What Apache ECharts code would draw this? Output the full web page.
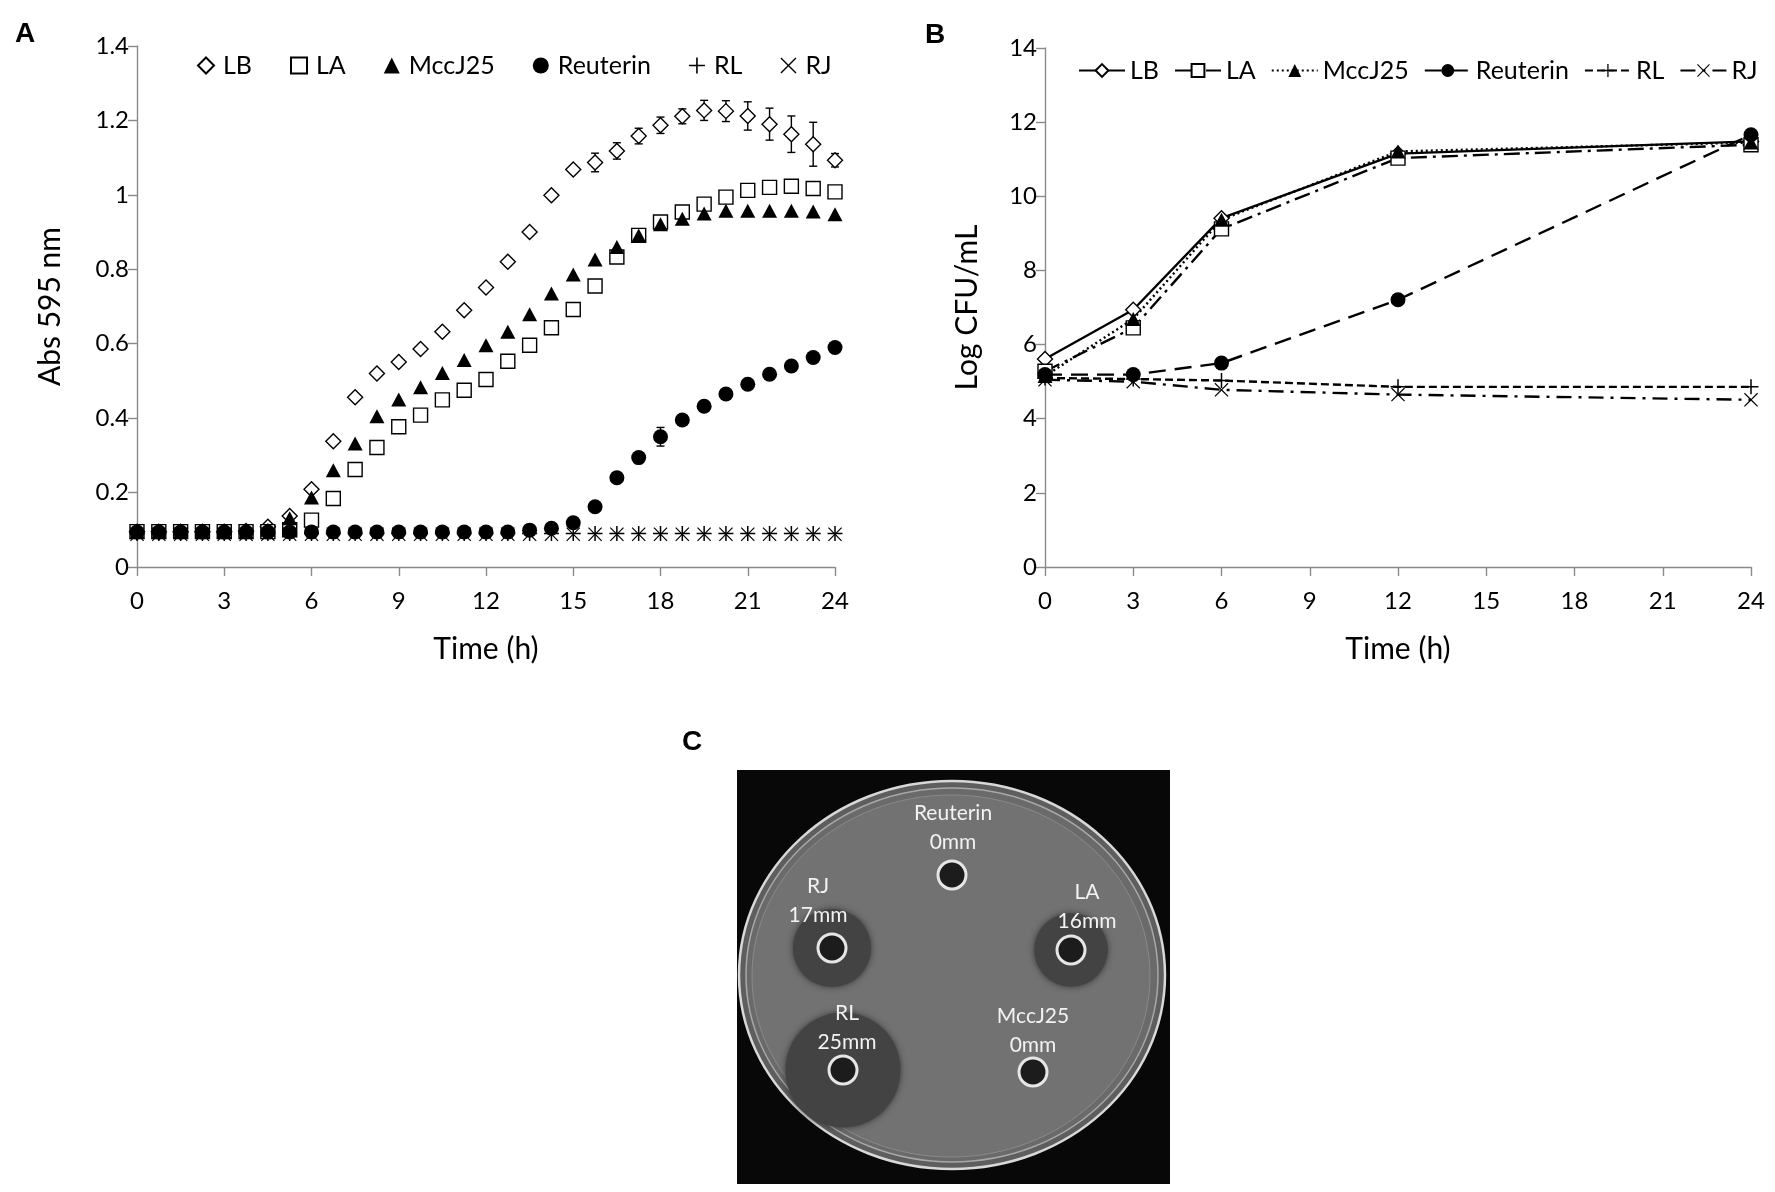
<!DOCTYPE html>
<html>
<head>
<meta charset="utf-8">
<title>Growth curves</title>
<script src="https://cdn.jsdelivr.net/npm/echarts@6/dist/echarts.min.js"></script>
<style>
    html, body { margin: 0; padding: 0; background: #fff; }
    #chart { width: 1775px; height: 1192px; }
</style>
</head>
<body>
<div id="chart"></div>
<script>
// ---- panel A: absorbance, one reading every 0.75 h ----
let timesA = [0, 0.75, 1.5, 2.25, 3, 3.75, 4.5, 5.25, 6, 6.75, 7.5, 8.25, 9, 9.75, 10.5, 11.25, 12,
    12.75, 13.5, 14.25, 15, 15.75, 16.5, 17.25, 18, 18.75, 19.5, 20.25, 21, 21.75, 22.5, 23.25, 24];
let lbA = [0.095, 0.095, 0.095, 0.095, 0.095, 0.097, 0.108, 0.137, 0.209, 0.338, 0.456, 0.52, 0.551, 0.586, 0.632, 0.69, 0.751,
    0.82, 0.9, 0.999, 1.068, 1.087, 1.118, 1.158, 1.187, 1.211, 1.227, 1.225, 1.212, 1.19, 1.163, 1.136, 1.093];
let lbErrA = [0, 0, 0, 0, 0, 0, 0, 0, 0, 0, 0, 0, 0, 0, 0, 0, 0,
    0, 0, 0, 0, 0.025, 0.022, 0.021, 0.022, 0.02, 0.027, 0.028, 0.038, 0.043, 0.049, 0.059, 0.018];
let laA = [0.095, 0.095, 0.095, 0.095, 0.095, 0.095, 0.095, 0.1, 0.126, 0.184, 0.262, 0.321, 0.377, 0.408, 0.449, 0.475, 0.504,
    0.553, 0.596, 0.643, 0.692, 0.755, 0.833, 0.891, 0.927, 0.954, 0.975, 0.994, 1.012, 1.02, 1.023, 1.017, 1.008];
let mccA = [0.095, 0.095, 0.095, 0.095, 0.095, 0.095, 0.1, 0.131, 0.187, 0.26, 0.332, 0.405, 0.45, 0.483, 0.521, 0.556, 0.596,
    0.632, 0.679, 0.735, 0.786, 0.826, 0.86, 0.891, 0.921, 0.936, 0.95, 0.957, 0.957, 0.957, 0.957, 0.955, 0.948];
let reuA = [0.094, 0.094, 0.094, 0.094, 0.094, 0.094, 0.094, 0.094, 0.094, 0.094, 0.094, 0.094, 0.094, 0.094, 0.094, 0.094, 0.094,
    0.094, 0.099, 0.104, 0.119, 0.162, 0.24, 0.294, 0.35, 0.395, 0.432, 0.465, 0.491, 0.518, 0.54, 0.563, 0.59];
let reuErrA = [0, 0, 0, 0, 0, 0, 0, 0, 0, 0, 0, 0, 0, 0, 0, 0, 0,
    0, 0, 0, 0, 0, 0, 0, 0.025, 0, 0, 0, 0, 0, 0, 0, 0];
let rlA = [0.09, 0.09, 0.09, 0.09, 0.09, 0.09, 0.09, 0.09, 0.09, 0.09, 0.09, 0.09, 0.09, 0.09, 0.09, 0.09, 0.09,
    0.09, 0.09, 0.09, 0.09, 0.09, 0.09, 0.09, 0.09, 0.09, 0.09, 0.09, 0.09, 0.09, 0.09, 0.09, 0.09];
let rjA = [0.088, 0.088, 0.088, 0.088, 0.088, 0.088, 0.088, 0.088, 0.088, 0.088, 0.088, 0.088, 0.088, 0.088, 0.088, 0.088, 0.088,
    0.088, 0.088, 0.088, 0.088, 0.088, 0.088, 0.088, 0.088, 0.088, 0.088, 0.088, 0.088, 0.088, 0.088, 0.088, 0.088];

// ---- panel B: plate counts ----
let timesB = [0, 3, 6, 12, 24];
let lbB = [5.61, 6.94, 9.41, 11.15, 11.48];
let laB = [5.28, 6.45, 9.12, 11.03, 11.39];
let mccB = [5.15, 6.69, 9.37, 11.21, 11.45];
let reuB = [5.19, 5.19, 5.5, 7.21, 11.66];
let rlB = [5.1, 5.07, 5.03, 4.86, 4.86];
let rjB = [5.05, 5.0, 4.78, 4.65, 4.51];

let seriesNames = ['LB', 'LA', 'MccJ25', 'Reuterin', 'RL', 'RJ'];

// ---- panel C: inhibition zones on the plate ----
let plateWells = ['Reuterin', 'RJ', 'LA', 'RL', 'MccJ25'];
let zoneMm = [0, 17, 16, 25, 0];

const FONT = 'Lato';
const PLUS = 'path://M9,0h2v20h-2z M0,9h20v2h-20z';
const CROSS = 'path://M1.2,0L10,8.8L18.8,0L20,1.2L11.2,10L20,18.8L18.8,20L10,11.2L1.2,20L0,18.8L8.8,10L0,1.2Z';
const B_PREFIX = 'B:'; // panel B series get their own names so each legend finds its own series

function pairs(xs, ys) {
    return xs.map(function (x, i) { return [x, ys[i]]; });
}
function errPairs(xs, ys, es) {
    let out = [];
    xs.forEach(function (x, i) { if (es[i] > 0) out.push([x, ys[i], es[i]]); });
    return out;
}

// style per series (symbol, colours)
let looks = [
    {symbol: 'diamond', size: 15, fill: '#fff'},
    {symbol: 'rect', size: 14, fill: '#fff'},
    {symbol: 'triangle', size: [15, 14], fill: '#000'},
    {symbol: 'circle', size: 15, fill: '#000'},
    {symbol: PLUS, size: 15, fill: '#000'},
    {symbol: CROSS, size: 14, fill: '#000'}
];
let lineTypes = ['solid', [16, 6, 3, 6], [2, 3], [17, 9], [8, 4], [15, 7, 3, 7]];

function axisCommon(isX) {
    return {
        axisLine: {show: true, onZero: false, lineStyle: {color: '#8a8a8a', width: 1.4}},
        axisTick: {show: true, length: 9, lineStyle: {color: '#8a8a8a', width: 1.4}},
        splitLine: {show: false},
        axisLabel: {color: '#000', fontFamily: FONT, fontSize: 24, margin: isX ? 22 : 8},
        nameTextStyle: {color: '#000', fontFamily: FONT, fontSize: 30},
        nameLocation: 'middle'
    };
}

let errRender = function (params, api) {
    let x = api.value(0), y = api.value(1), e = api.value(2);
    let top = api.coord([x, y + e]);
    let bot = api.coord([x, y - e]);
    let hw = 4;
    let st = {stroke: '#000', lineWidth: 1.4};
    return {
        type: 'group',
        children: [
            {type: 'line', shape: {x1: top[0], y1: top[1], x2: bot[0], y2: bot[1]}, style: st},
            {type: 'line', shape: {x1: top[0] - hw, y1: top[1], x2: top[0] + hw, y2: top[1]}, style: st},
            {type: 'line', shape: {x1: bot[0] - hw, y1: bot[1], x2: bot[0] + hw, y2: bot[1]}, style: st}
        ]
    };
};

let dataA = [lbA, laA, mccA, reuA, rlA, rjA];
let dataB = [lbB, laB, mccB, reuB, rlB, rjB];

let series = [];
// error bars first so markers sit on top of them
series.push({type: 'custom', name: 'errLB', xAxisIndex: 0, yAxisIndex: 0, z: 1,
    renderItem: errRender, data: errPairs(timesA, lbA, lbErrA), silent: true});
series.push({type: 'custom', name: 'errReu', xAxisIndex: 0, yAxisIndex: 0, z: 1,
    renderItem: errRender, data: errPairs(timesA, reuA, reuErrA), silent: true});

seriesNames.forEach(function (name, i) {
    let lk = looks[i];
    series.push({
        type: 'scatter',
        name: name,
        xAxisIndex: 0, yAxisIndex: 0, z: 2,
        symbol: lk.symbol,
        symbolSize: lk.size,
        itemStyle: {color: lk.fill, borderColor: '#000', borderWidth: lk.fill === '#fff' ? 1.4 : 0, opacity: 1},
        data: pairs(timesA, dataA[i])
    });
});
seriesNames.forEach(function (name, i) {
    let lk = looks[i];
    series.push({
        type: 'line',
        name: B_PREFIX + name,
        xAxisIndex: 1, yAxisIndex: 1, z: 2,
        symbol: lk.symbol,
        symbolSize: lk.size,
        showAllSymbol: true,
        itemStyle: {color: lk.fill, borderColor: '#000', borderWidth: lk.fill === '#fff' ? 1.4 : 0},
        lineStyle: {color: '#000', width: 2.4, type: lineTypes[i]},
        data: pairs(timesB, dataB[i])
    });
});

// plate picture (panel C), drawn with graphic elements
let wellPos = [[952, 875], [832, 948], [1071, 950], [843, 1070], [1033, 1072]];
let labelPos = [[953, 828], [818, 901], [1087, 907], [847, 1028], [1033, 1031]];
let plate = [
    {type: 'rect', shape: {x: 737, y: 770, width: 433, height: 414}, style: {fill: '#080808'}},
    {type: 'ellipse', shape: {cx: 952, cy: 975, rx: 213, ry: 194}, style: {fill: '#5e5e5e', stroke: '#d8d8d8', lineWidth: 2.5}},
    {type: 'ellipse', shape: {cx: 952, cy: 975, rx: 206, ry: 187}, style: {fill: '#6a6a6a', stroke: '#a8a8a8', lineWidth: 1.5}},
    {type: 'ellipse', shape: {cx: 951, cy: 976, rx: 199, ry: 181}, style: {fill: '#727272', stroke: '#8a8a8a', lineWidth: 1}}
];
plateWells.forEach(function (name, i) {
    let p = wellPos[i];
    if (zoneMm[i] > 0) {
        plate.push({type: 'circle', shape: {cx: p[0], cy: p[1], r: zoneMm[i] * 2.3},
            style: {fill: '#434343', shadowBlur: 6, shadowColor: 'rgba(40,40,40,0.8)'}});
    }
});
plateWells.forEach(function (name, i) {
    let p = wellPos[i];
    plate.push({type: 'circle', shape: {cx: p[0], cy: p[1], r: 14}, style: {fill: '#1c1c1c', stroke: '#e6e6e6', lineWidth: 3}});
    plate.push({
        type: 'text', x: labelPos[i][0], y: labelPos[i][1],
        style: {text: name + '\n' + zoneMm[i] + 'mm', fill: '#f2f2f2', font: '21px ' + FONT,
            align: 'center', verticalAlign: 'middle', lineHeight: 29}
    });
});

let panelLetters = [
    {type: 'text', x: 25, y: 34, style: {text: 'A', font: 'bold 28px "Liberation Sans"', fill: '#000', align: 'center', verticalAlign: 'middle'}},
    {type: 'text', x: 935, y: 35, style: {text: 'B', font: 'bold 28px "Liberation Sans"', fill: '#000', align: 'center', verticalAlign: 'middle'}},
    {type: 'text', x: 692, y: 742, style: {text: 'C', font: 'bold 28px "Liberation Sans"', fill: '#000', align: 'center', verticalAlign: 'middle'}}
];

let chart = echarts.init(document.getElementById('chart'), null, {renderer: 'canvas'});
let option = {
    backgroundColor: '#fff',
    animation: false,
    grid: [
        {left: 137, top: 46, width: 698, height: 521},
        {left: 1045, top: 48, width: 706, height: 519}
    ],
    legend: [
        {
            data: seriesNames,
            left: 192, top: 48, itemWidth: 16, itemHeight: 16, itemGap: 38,
            textStyle: {fontFamily: FONT, fontSize: 25, color: '#000', padding: [0, 0, 0, 4]}
        },
        {
            data: seriesNames.map(function (n) { return B_PREFIX + n; }),
            formatter: function (name) { return name.replace(B_PREFIX, ''); },
            left: 1078, top: 58, width: 697, padding: 0,
            itemWidth: 46, itemHeight: 16, itemGap: 15,
            textStyle: {fontFamily: FONT, fontSize: 25, color: '#000'}
        }
    ],
    xAxis: [
        Object.assign(axisCommon(true), {type: 'value', gridIndex: 0, min: 0, max: 24, interval: 3,
            name: 'Time (h)', nameGap: 67}),
        Object.assign(axisCommon(true), {type: 'value', gridIndex: 1, min: 0, max: 24, interval: 3,
            name: 'Time (h)', nameGap: 67})
    ],
    yAxis: [
        Object.assign(axisCommon(false), {type: 'value', gridIndex: 0, min: 0, max: 1.4, interval: 0.2,
            name: 'Abs 595 nm', nameGap: 72}),
        Object.assign(axisCommon(false), {type: 'value', gridIndex: 1, min: 0, max: 14, interval: 2,
            name: 'Log CFU/mL', nameGap: 63})
    ],
    series: series,
    graphic: plate.concat(panelLetters)
};
chart.setOption(option);
</script>
</body>
</html>
